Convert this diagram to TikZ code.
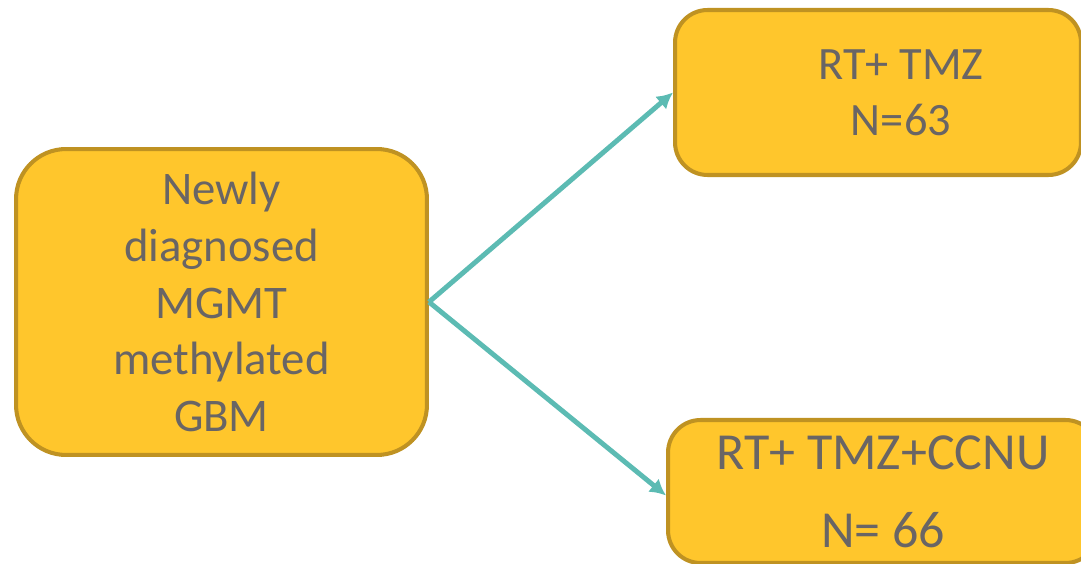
\documentclass[tikz,border=0pt]{standalone}
\usepackage{fontspec}
\setmainfont{Carlito}
\usetikzlibrary{arrows.meta}
\definecolor{boxfill}{RGB}{255,198,44}
\definecolor{boxedge}{RGB}{191,146,34}
\definecolor{arrowteal}{RGB}{92,187,179}
\definecolor{textgray}{RGB}{105,101,101}

\begin{document}
\begin{tikzpicture}[x=0.02cm, y=-0.02cm,
    box/.style={draw=boxedge, fill=boxfill, line width=2.3pt, inner sep=0pt,
      align=center, text=textgray},
    arrowline/.style={draw=arrowteal, line width=2.8pt,
      -{Latex[length=0.32cm, width=0.34cm]}}]
        \clip (0,0) rectangle (1081,564);

        \node[box, rounded corners=1cm, minimum width=8.22cm, minimum height=6.12cm,
          font=\fontsize{26.6}{32.4}\selectfont] (pat) at (221.5,302)
          {Newly\\diagnosed\\MGMT\\methylated\\GBM};
        \node[box, rounded corners=0.65cm, minimum width=8.12cm, minimum height=3.3cm] (armA) at (878,92.5) {};
        \node[align=center, text=textgray, font=\fontsize{26.4}{32}\selectfont, inner sep=0pt]
          (armAlbl) at ([xshift=0.46cm]armA.center) {RT+ TMZ\\N=63};
        \node[box, rounded corners=0.65cm, minimum width=8.6cm, minimum height=2.86cm,
          font=\fontsize{29.6}{44.5}\selectfont] (armB) at (883,491.5)
          {RT+ TMZ+CCNU\\N= 66};

        \draw[arrowline] (pat.east) -- (armA.west);
        \draw[arrowline] (pat.east) -- ([yshift=-0.08cm]armB.west);
      \end{tikzpicture}
\end{document}
